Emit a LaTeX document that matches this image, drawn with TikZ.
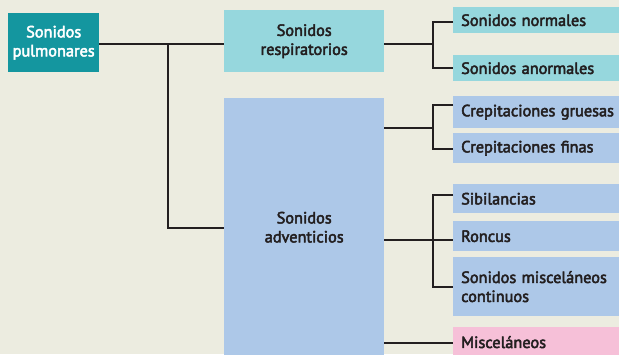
\documentclass[tikz,border=0pt]{standalone}
\usepackage{fontspec}
\setmainfont{PT Sans}[FakeBold=3]
\definecolor{bgc}{HTML}{ECECE0}
\definecolor{tealc}{HTML}{14969F}
\definecolor{cyanc}{HTML}{96D7DD}
\definecolor{bluec}{HTML}{ADC8E8}
\definecolor{pinkc}{HTML}{F6C0D8}
\definecolor{linec}{HTML}{231F20}
\begin{document}
\begin{tikzpicture}[x=1pt,y=-1pt,
  every node/.style={font=\fontsize{16.3}{19}\selectfont, text=linec, inner sep=0pt},
  box/.style={anchor=north west, align=center},
  leaf/.style={anchor=north west, align=left, inner xsep=8pt, text width=170pt},
  conn/.style={draw=linec, line width=2.3pt}]
\fill[bgc] (0,0) rectangle (619,354);
\useasboundingbox (0,0) rectangle (619,354);
% main boxes
\node[box, fill=tealc, text=white, minimum width=91pt, minimum height=59pt] (a) at (8,13) {Sonidos\\pulmonares};
\node[box, fill=cyanc, minimum width=160pt, minimum height=62pt] (b) at (224,10) {Sonidos\\respiratorios};
\node[box, fill=bluec, minimum width=160pt, minimum height=258pt] (c) at (224,98) {Sonidos\\adventicios};
% leaves
\node[leaf, fill=cyanc, minimum height=26pt] (n1) at (453,7) {Sonidos normales};
\node[leaf, fill=cyanc, minimum height=26pt] (n2) at (453,55) {Sonidos anormales};
\node[leaf, fill=bluec, minimum height=32pt] (g1) at (453,96) {Crepitaciones gruesas};
\node[leaf, fill=bluec, minimum height=30pt] (g2) at (453,133) {Crepitaciones finas};
\node[leaf, fill=bluec, minimum height=29pt] (s1) at (453,184) {Sibilancias};
\node[leaf, fill=bluec, minimum height=30pt] (s2) at (453,221) {Roncus};
\node[leaf, fill=bluec, minimum height=59pt] (s3) at (453,257) {Sonidos misceláneos\\continuos};
\node[leaf, fill=pinkc, minimum height=30pt] (m1) at (453,327) {Misceláneos};
% junction coordinates
\coordinate (j1) at (168,44);
\coordinate (j2) at (168,228);
\coordinate (k1) at (433,44);
\coordinate (k2) at (433,128);
\coordinate (k3) at (433,240);
\coordinate (k4) at (433,343);
% connectors
\draw[conn] (a.east|-j1) -- (b.west|-j1);
\draw[conn] (j1) -- (j2) -- (c.west|-j2);
\draw[conn] (b.east|-k1) -- (k1);
\draw[conn] ([yshift=-2pt]n1.west) -| (k1) |- (n2.west);
\draw[conn] (c.east|-k2) -- (k2);
\draw[conn] ([yshift=7pt]g1.west) -| (k2) |- ([yshift=-1pt]g2.west);
\draw[conn] (c.east|-k3) -- (s2.west|-k3);
\draw[conn] ([yshift=4pt]s1.west) -| (k3) |- (s3.west);
\draw[conn] (c.east|-k4) -- (m1.west|-k4);
\end{tikzpicture}
\end{document}
